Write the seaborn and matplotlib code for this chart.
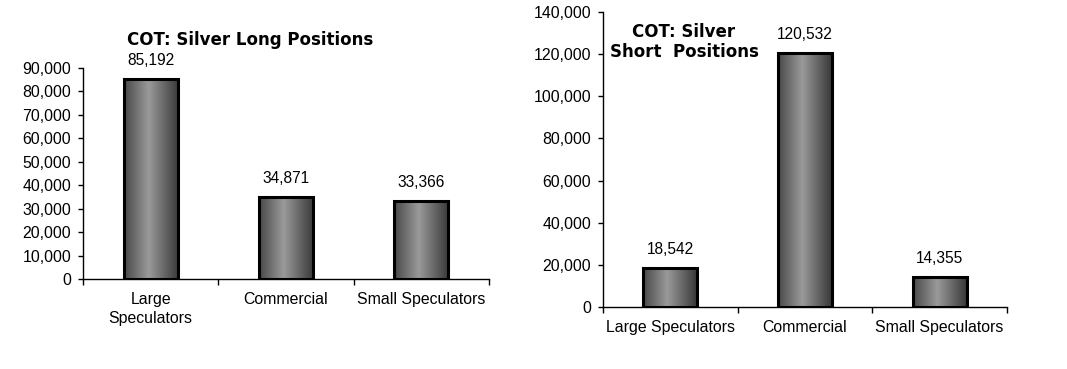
import matplotlib
matplotlib.use('Agg')
import matplotlib.pyplot as plt
import matplotlib.colors as mcolors
import numpy as np
import pandas as pd
import seaborn as sns

# data
categories = ['Large Speculators', 'Commercial', 'Small Speculators']
long_labels = ['Large\nSpeculators', 'Commercial', 'Small Speculators']
long_values = [85192, 34871, 33366]
short_values = [18542, 120532, 14355]
long_ticks = list(range(0, 90001, 10000))
short_ticks = list(range(0, 140001, 20000))

sns.set_style('white')
plt.rcParams['font.family'] = ['Liberation Sans', 'DejaVu Sans']
plt.rcParams['text.color'] = 'black'
plt.rcParams['xtick.color'] = 'black'
plt.rcParams['ytick.color'] = 'black'

fig = plt.figure(figsize=(10.67, 3.69), dpi=100)
ax1 = fig.add_axes([83 / 1067, 1 - 279 / 369, 406 / 1067, 211 / 369])
ax2 = fig.add_axes([603 / 1067, 1 - 307 / 369, 404 / 1067, 295 / 369])

# cylinder-like shading for the bars
shade = mcolors.LinearSegmentedColormap.from_list(
    'shade', [(0, '#484848'), (0.45, '#9a9a9a'), (1, '#383838')])
grad = np.linspace(0, 1, 256).reshape(1, -1)


def draw_panel(ax, values, labels, ticks):
    df = pd.DataFrame({'cat': categories, 'val': values})
    sns.barplot(data=df, x='cat', y='val', color='gray', width=0.4,
                edgecolor='black', linewidth=2.2, ax=ax)
    for bar in ax.patches:
        x0, y0 = bar.get_x(), bar.get_y()
        w, h = bar.get_width(), bar.get_height()
        bar.set_facecolor('none')
        bar.set_zorder(3)
        im = ax.imshow(grad, cmap=shade, aspect='auto', zorder=2,
                       extent=[x0, x0 + w, y0, y0 + h])
        im.set_clip_path(bar)
        ax.annotate('{:,}'.format(int(h)), (x0 + w / 2, h), xytext=(0, 8),
                    textcoords='offset points', ha='center', va='bottom',
                    fontsize=11.2, color='black')
    ax.set_ylim(0, ticks[-1])
    ax.set_xlim(-0.5, len(categories) - 0.5)
    ax.set_yticks(ticks)
    ax.set_yticklabels(['{:,}'.format(t) for t in ticks], fontsize=11.4)
    ax.set_xticks(range(len(categories)))
    ax.set_xticklabels(labels, fontsize=11.4, linespacing=1.3)
    ax.set_xticks(np.arange(-0.5, len(categories)), minor=True)
    ax.tick_params(axis='x', which='major', bottom=True, length=0, pad=9.5)
    ax.tick_params(axis='x', which='minor', bottom=True, length=4, width=1,
                   direction='out', color='black')
    ax.tick_params(axis='y', left=True, length=3.5, width=1, direction='out',
                   pad=5, color='black')
    ax.set_xlabel('')
    ax.set_ylabel('')
    for side in ['top', 'right']:
        ax.spines[side].set_visible(False)
    for side in ['left', 'bottom']:
        ax.spines[side].set_color('black')
        ax.spines[side].set_linewidth(1)


draw_panel(ax1, long_values, long_labels, long_ticks)
draw_panel(ax2, short_values, categories, short_ticks)

fig.text(250 / 1067, 1 - 40 / 369, 'COT: Silver Long Positions', ha='center',
         va='center', fontsize=12, fontweight='bold', family='DejaVu Sans')
fig.text(684 / 1067, 1 - 42 / 369, 'COT: Silver\nShort  Positions', ha='center',
         va='center', fontsize=12, fontweight='bold', family='DejaVu Sans',
         multialignment='center', linespacing=1.15)

fig.savefig('out.png', dpi=100)
